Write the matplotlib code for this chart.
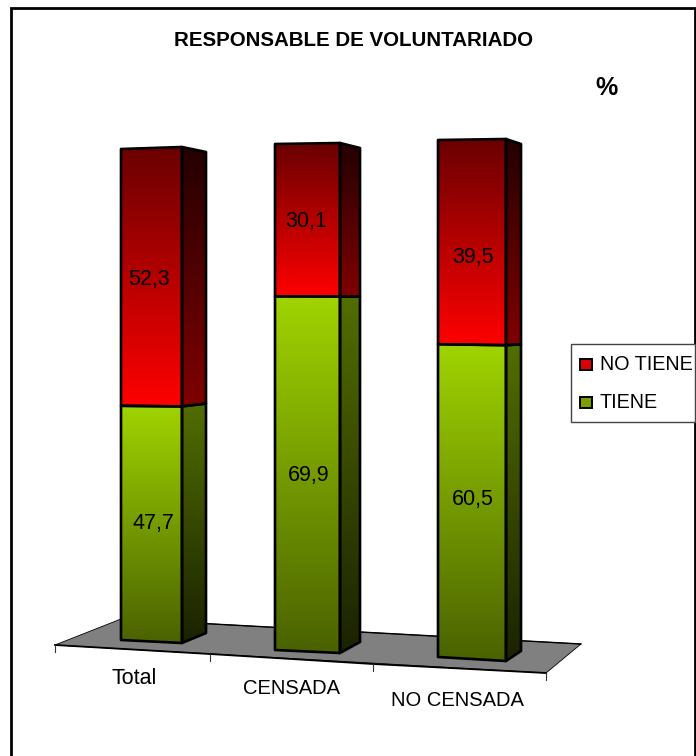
import numpy as np
import matplotlib
matplotlib.use('Agg')
import matplotlib.pyplot as plt
from matplotlib.colors import LinearSegmentedColormap
from matplotlib.patches import Polygon, Rectangle

plt.rcParams['font.family'] = ['Liberation Sans', 'DejaVu Sans']

categories = ['Total', 'CENSADA', 'NO CENSADA']
tiene = [47.7, 69.9, 60.5]
no_tiene = [52.3, 30.1, 39.5]

# perspective of each column, in pixels of the figure
left = [121, 275, 438]
right = [182, 340, 506]
side = [206, 360, 521]
base_l = [640, 650, 657]
base_r = [643, 653, 661]
top_l = [149, 144, 140]
top_r = [147, 143, 139]
side_top = [152, 148, 144]
side_base = [633, 642, 651]

# where the value labels sit
tiene_x = [153, 309, 473]
tiene_y = [523, 475, 499]
no_tiene_x = [149, 306, 473]
no_tiene_y = [280, 222, 257]

red_front = LinearSegmentedColormap.from_list('rf', ['#6a0000', '#ff0000'])
red_side = LinearSegmentedColormap.from_list('rs', ['#250000', '#800000'])
green_front = LinearSegmentedColormap.from_list('gf', ['#a0d400', '#4a6200'])
green_side = LinearSegmentedColormap.from_list('gs', ['#526e00', '#1a2200'])


def face(ax, pts, cmap):
    pts = np.array(pts)
    ys = pts[:, 1]
    xs = pts[:, 0]
    grad = np.linspace(0, 1, 256).reshape(-1, 1)
    im = ax.imshow(grad, cmap=cmap, aspect='auto', zorder=3,
                   extent=(xs.min(), xs.max(), ys.max(), ys.min()))
    p = Polygon(pts, closed=True, fc='none', ec='black', lw=1.9, joinstyle='round', zorder=4)
    ax.add_patch(p)
    im.set_clip_path(p)


fig = plt.figure(figsize=(6.96, 7.56), dpi=100)
ax = fig.add_axes([0, 0, 1, 1])

# outer frame, the bottom edge falls off the picture
ax.add_patch(Rectangle((11, 8), 684, 760, fc='white', ec='black', lw=2, zorder=0))

# floor
tick_x = [55, 210, 373, 546]
tick_y = [645, 654, 664, 673]
ax.add_patch(Polygon([(55, 645), (121, 619), (581, 644), (546, 673)], closed=True,
                     fc='#808080', ec='black', lw=0.6, zorder=1))
ax.plot(tick_x, tick_y, color='black', lw=1.3, zorder=2)
ax.plot([121, 581], [619, 644], color='black', lw=1, zorder=2)
for tx, ty in zip(tick_x, tick_y):
    ax.plot([tx, tx], [ty, ty + 7], color='#333333', lw=0.8, zorder=2)

for i in range(len(categories)):
    total = tiene[i] + no_tiene[i]
    frac = tiene[i] / total
    sl = base_l[i] + (top_l[i] - base_l[i]) * frac
    sr = base_r[i] + (top_r[i] - base_r[i]) * frac
    ss = side_base[i] + (side_top[i] - side_base[i]) * frac

    face(ax, [(right[i], sr), (side[i], ss), (side[i], side_base[i]), (right[i], base_r[i])], green_side)
    face(ax, [(right[i], top_r[i]), (side[i], side_top[i]), (side[i], ss), (right[i], sr)], red_side)
    face(ax, [(left[i], sl), (right[i], sr), (right[i], base_r[i]), (left[i], base_l[i])], green_front)
    face(ax, [(left[i], top_l[i]), (right[i], top_r[i]), (right[i], sr), (left[i], sl)], red_front)

    ax.text(tiene_x[i], tiene_y[i], f'{tiene[i]:.1f}'.replace('.', ','), ha='center',
            va='center', fontsize=15.5, color='black', zorder=5)
    ax.text(no_tiene_x[i], no_tiene_y[i], f'{no_tiene[i]:.1f}'.replace('.', ','), ha='center',
            va='center', fontsize=15.5, color='black', zorder=5)

# category labels
for name, lx, ly, fs in zip(categories, [134, 291, 457], [679, 689, 700], [15.5, 14.5, 14.5]):
    ax.text(lx, ly, name, ha='center', va='center', fontsize=fs, color='black')

ax.text(353, 41, 'RESPONSABLE DE VOLUNTARIADO', ha='center', va='center',
        fontsize=14.8, fontweight='bold')
ax.text(607, 88, '%', ha='center', va='center', fontsize=18, fontweight='bold')

# legend
ax.add_patch(Rectangle((571, 344), 124, 78, fc='white', ec='#444444', lw=1, zorder=5))
ax.add_patch(Rectangle((580, 359), 12, 11, fc='#d80000', ec='black', lw=1.4, zorder=6))
ax.add_patch(Rectangle((580, 397), 12, 11, fc='#7a9e00', ec='black', lw=1.4, zorder=6))
ax.text(600, 365, 'NO TIENE', ha='left', va='center', fontsize=14.2, zorder=6)
ax.text(600, 402, 'TIENE', ha='left', va='center', fontsize=14.2, zorder=6)

ax.set_xlim(0, 696)
ax.set_ylim(756, 0)
ax.axis('off')

fig.savefig('out.png', dpi=100)
